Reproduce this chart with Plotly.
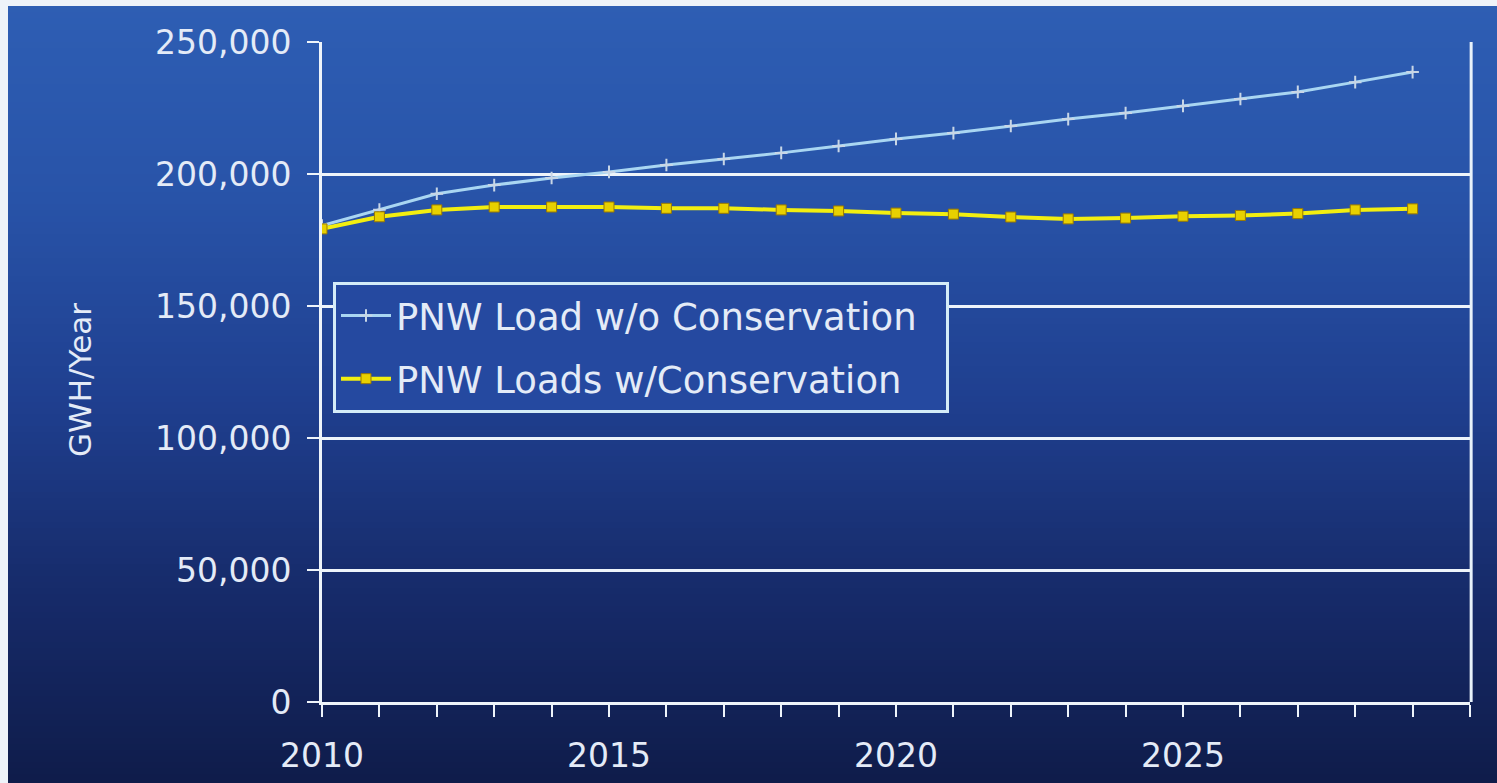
import plotly.graph_objects as go

# Annual regional load forecast, GWh per year
years = list(range(2010, 2030))
load_without_conservation = [180500, 186500, 192500, 195800, 198500, 200800, 203400,
                             205700, 208000, 210600, 213300, 215500, 218200, 220800,
                             223100, 225800, 228400, 231100, 234800, 238600]
load_with_conservation = [179200, 183800, 186400, 187500, 187500, 187500, 187000,
                          187000, 186400, 186000, 185200, 184800, 183700, 183000,
                          183300, 184000, 184300, 185000, 186400, 186800]

x_tick_vals = list(range(2010, 2031))
x_tick_text = [str(v) if v % 5 == 0 and v < 2030 else "" for v in x_tick_vals]
y_tick_vals = [0, 50000, 100000, 150000, 200000, 250000]

W, H = 1497, 783
L, R, T, B = 322, 27, 42, 81
PW, PH = W - L - R, H - T - B


def px_x(x):
    return (x - L) / PW


def px_y(y):
    return (H - B - y) / PH


# vertical background gradient, drawn as overlapping bands (each reaches the bottom)
stops = [(0, (46, 94, 180)), (200, (40, 83, 168)), (400, (31, 63, 143)),
         (600, (22, 42, 104)), (783, (15, 28, 74))]


def grad(y):
    for (y0, c0), (y1, c1) in zip(stops[:-1], stops[1:]):
        if y0 <= y <= y1:
            t = (y - y0) / (y1 - y0)
            return tuple(round(a + (b - a) * t) for a, b in zip(c0, c1))
    return stops[-1][1]


shapes = []
step = 6
for y in range(0, H, step):
    c = grad(y + step / 2)
    shapes.append(dict(type="rect", xref="paper", yref="paper", layer="below",
                       x0=px_x(0), x1=px_x(W), y0=px_y(H), y1=px_y(y),
                       fillcolor=f"rgb{c}", line=dict(width=0)))
# light slide margin at the left and top edges
shapes.append(dict(type="rect", xref="paper", yref="paper", layer="below",
                   x0=px_x(0), x1=px_x(8), y0=px_y(H), y1=px_y(0),
                   fillcolor="#eef3f9", line=dict(width=0)))
shapes.append(dict(type="rect", xref="paper", yref="paper", layer="below",
                   x0=px_x(0), x1=px_x(W), y0=px_y(6), y1=px_y(0),
                   fillcolor="#eef3f9", line=dict(width=0)))
# right frame edge of the plot area
shapes.append(dict(type="line", xref="paper", yref="paper", layer="above",
                   x0=1.001, x1=1.001, y0=0, y1=1, line=dict(color="#e8f2fa", width=3)))

FONT = "DejaVu Sans, Verdana, sans-serif"
TXT = "#e4ebf7"

fig = go.Figure()
fig.add_trace(go.Scatter(
    x=years, y=load_without_conservation, name="PNW Load w/o Conservation\u00a0\u00a0",
    mode="lines+markers", legendgroup="a",
    line=dict(color="#a9d6f2", width=3),
    marker=dict(symbol="cross-thin", size=9, line=dict(color="#c8d6e6", width=2)),
))
fig.add_trace(go.Scatter(
    x=years, y=load_with_conservation, name="PNW Loads w/Conservation",
    mode="lines+markers", legendgroup="b",
    line=dict(color="#f2ee10", width=4),
    marker=dict(symbol="square", size=10, color="#e8d000",
                line=dict(color="#9a7a00", width=1)),
))

fig.update_layout(
    width=W, height=H,
    margin=dict(l=L, r=R, t=T, b=B),
    paper_bgcolor="rgba(0,0,0,0)",
    plot_bgcolor="rgba(0,0,0,0)",
    font=dict(family=FONT, color=TXT, size=33),
    shapes=shapes,
    showlegend=True,
    legend=dict(
        x=px_x(333), y=px_y(282), xanchor="left", yanchor="top",
        bgcolor="rgb(37,73,160)", bordercolor="#d4ecf8", borderwidth=3,
        font=dict(family=FONT, size=37, color=TXT),
        tracegroupgap=12, itemwidth=50,
    ),
    xaxis=dict(
        range=[2010, 2030], tickmode="array", tickvals=x_tick_vals, ticktext=x_tick_text,
        automargin=False,
        showgrid=False, zeroline=False, showline=True, linecolor="#eef4fa", linewidth=3,
        ticks="outside", ticklen=12, tickwidth=2, tickcolor="#eef4fa",
        ticklabelstandoff=10, tickfont=dict(size=33, color=TXT),
    ),
    yaxis=dict(
        range=[0, 250000], tickmode="array", tickvals=y_tick_vals, automargin=False,
        tickformat=",d", showgrid=True, gridcolor="#eef4fa", gridwidth=3,
        zeroline=False, showline=True, linecolor="#eef4fa", linewidth=3,
        ticks="outside", ticklen=12, tickwidth=2, tickcolor="#eef4fa",
        ticklabelstandoff=9, tickfont=dict(size=33, color=TXT),
    ),
    annotations=[dict(
        text="GWH/Year", xref="paper", yref="paper", x=px_x(80), y=px_y(380),
        xanchor="center", yanchor="middle", textangle=-90, showarrow=False,
        font=dict(family=FONT, size=31, color=TXT),
    )],
)

fig.write_html("out.html")
